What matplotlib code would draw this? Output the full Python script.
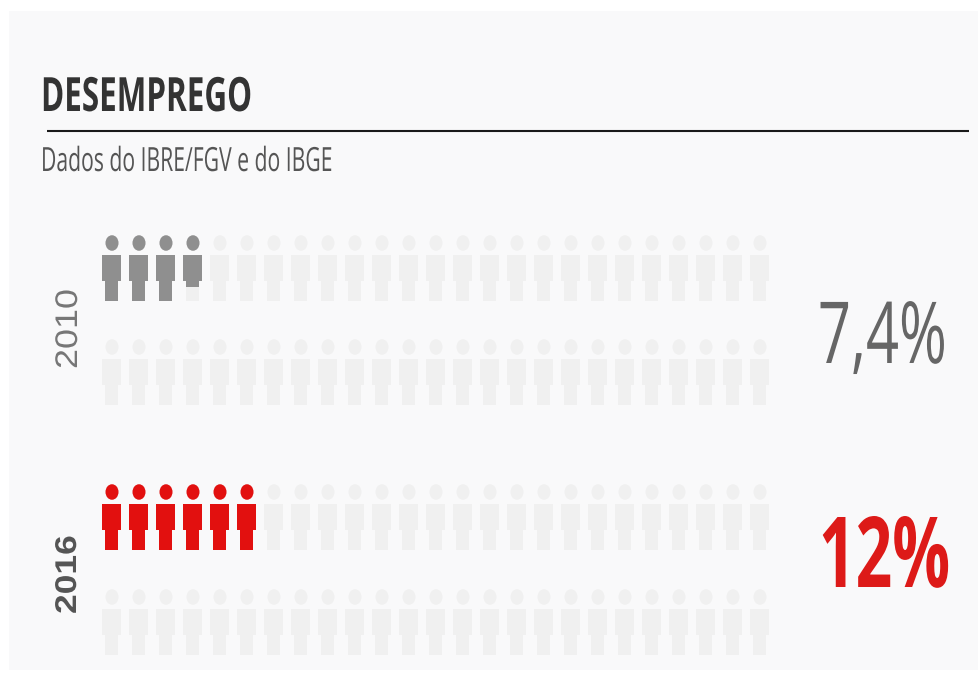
#!/usr/bin/env python3
import matplotlib
matplotlib.use("Agg")
import matplotlib.pyplot as plt
from matplotlib.patches import Ellipse, Rectangle
from matplotlib.patheffects import AbstractPathEffect
from matplotlib.transforms import Affine2D

years = ["2010", "2016"]
rates = [7.4, 12.0]
rate_labels = ["7,4%", "12%"]
rate_per_person = 2.0
people_per_row = 25

W, H = 979, 684
GHOST = "#f0f0f0"
row_tops = [[236, 340], [485, 590]]
fills = ["#8f8f8f", "#e2100f"]


class Squeeze(AbstractPathEffect):
    # scales glyphs along the text direction, there is no condensed face installed
    def __init__(self, sx, from_end=False):
        super().__init__()
        self.sx = sx
        self.from_end = from_end

    def draw_path(self, renderer, gc, tpath, affine, rgbFace=None):
        x0 = tpath.get_extents().x1 if self.from_end else 0.0
        scale = Affine2D().translate(-x0, 0).scale(self.sx, 1.0).translate(x0, 0)
        renderer.draw_path(gc, tpath, scale + affine, rgbFace)


def label(ax, x, y, s, sx, ha="left", **kw):
    ax.text(x, y, s, ha=ha, va="baseline", rotation_mode="anchor",
            path_effects=[Squeeze(sx, from_end=ha == "right")], **kw)


def person(ax, cx, top, color, frac=1.0):
    # head, torso and legs; frac cuts the body from the top down (head is always full)
    parts = [
        Ellipse((cx, top + 7), 13, 15.5, fc=color, ec="none"),
        Rectangle((cx - 9.5, top + 19), 19, 26, fc=color, ec="none"),
        Rectangle((cx - 6.5, top + 45), 13, 20, fc=color, ec="none"),
    ]
    clip = Rectangle((cx - 15, top - 2), 30, 21 + 46 * frac, transform=ax.transData)
    for part in parts:
        ax.add_patch(part)
        part.set_clip_path(clip)


def draw_year(ax, i):
    n = rates[i] / rate_per_person
    for r, top in enumerate(row_tops[i]):
        for c in range(people_per_row):
            cx = 112 + 27 * c
            person(ax, cx, top, GHOST)
            left = n - (r * people_per_row + c)
            if left > 0:
                person(ax, cx, top, fills[i], min(left, 1.0))


fig = plt.figure(figsize=(W / 100, H / 100), dpi=100, facecolor="white")
ax = fig.add_axes([0, 0, 1, 1])
ax.set_xlim(0, W)
ax.set_ylim(H, 0)
ax.axis("off")

ax.add_patch(Rectangle((9, 11), W - 9, 659, fc="#f9f9fa", ec="none"))

label(ax, 41, 111, "DESEMPREGO", 0.665, family="Open Sans", fontsize=34,
      fontweight="bold", color="#333333")
ax.plot([47, 969], [131, 131], color="#1a1a1a", lw=1.5, solid_capstyle="butt")
label(ax, 41, 171, "Dados do IBRE/FGV e do IBGE", 0.635, family="Open Sans",
      fontsize=24, color="#555555")

for i in range(len(years)):
    draw_year(ax, i)

label(ax, 77, 369, years[0], 1.15, family="Liberation Sans", fontsize=22.5,
      rotation=90, color="#777777")
label(ax, 76, 614, years[1], 1.18, family="Liberation Sans", fontsize=21.6,
      rotation=90, fontweight="bold", color="#555555")

label(ax, 948, 363, rate_labels[0], 0.676, ha="right", family="Open Sans",
      fontsize=61.6, color="#666666")
label(ax, 951, 587, rate_labels[1], 0.655, ha="right", family="Open Sans",
      fontsize=70.6, fontweight="bold", color="#dd1a18")

fig.savefig("out.png", dpi=100)
